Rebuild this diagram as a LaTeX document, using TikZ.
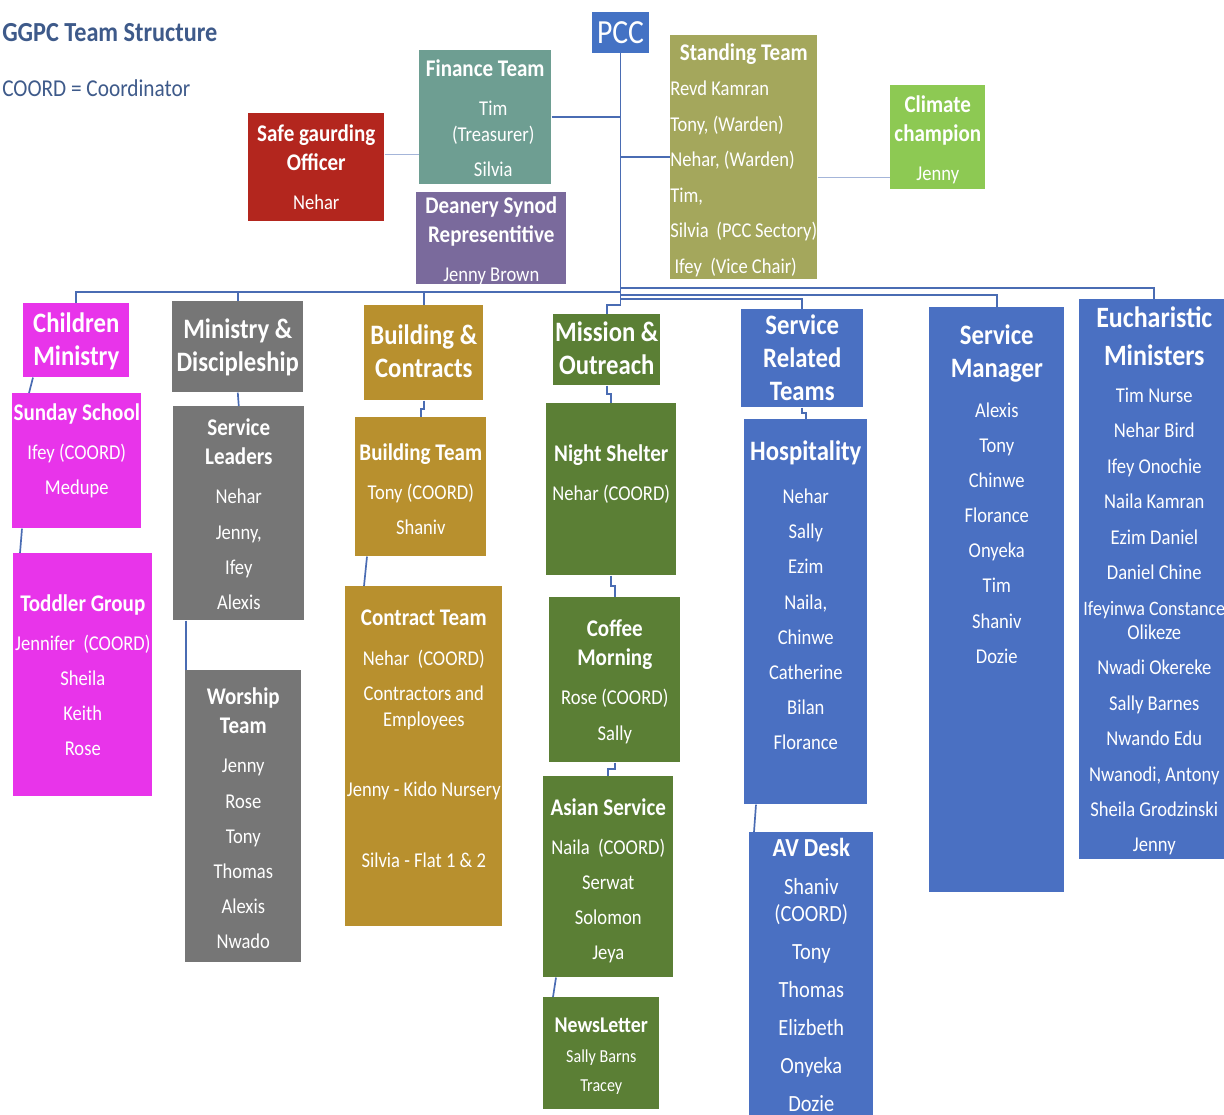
\documentclass[tikz,border=0pt]{standalone}
\usepackage{fontspec}
\setmainfont{Carlito}[FakeStretch=0.88]
\usepackage{tikz}
\usetikzlibrary{calc}

\definecolor{pccblue}{HTML}{4472C4}
\definecolor{finteal}{HTML}{6E9E92}
\definecolor{safered}{HTML}{B3261E}
\definecolor{synodpurple}{HTML}{7A6A9C}
\definecolor{standolive}{HTML}{A4A75C}
\definecolor{climgreen}{HTML}{8DC953}
\definecolor{kidmagenta}{HTML}{E834EA}
\definecolor{mingrey}{HTML}{767676}
\definecolor{bldgold}{HTML}{B8902E}
\definecolor{misgreen}{HTML}{5B7F35}
\definecolor{svcblue}{HTML}{4A70C2}
\definecolor{linkblue}{HTML}{4A6CB3}
\definecolor{titleblue}{HTML}{3E5A8A}

\newlength{\pxu}
\setlength{\pxu}{0.025cm}
% box text: width, height, top gap (px), contents
\newcommand{\cardtext}[4]{\parbox[c][#2\pxu][t]{#1\pxu}{\centering\vspace*{#3\pxu}#4}}
\newcommand{\tophead}[1]{{\fontsize{20}{24}\selectfont\bfseries #1\par}}
\newcommand{\subhead}[1]{{\fontsize{17}{21}\selectfont\bfseries #1\par}}
\newcommand{\people}[2][25]{{\fontsize{15}{#1}\selectfont\vspace{3pt}#2\par}}

\begin{document}
\begin{tikzpicture}[
        x=0.025cm, y=-0.025cm,
        card/.style={fill=#1, text=white, inner sep=0pt, anchor=north west},
        link/.style={draw=linkblue, line width=1.2pt},
        faint/.style={draw=linkblue!50, line width=1pt}
    ]
    \useasboundingbox (0,0) rectangle (1224,1115);
    \clip (0,0) rectangle (1224,1115);
    \fill[white] (0,0) rectangle (1224,1115);

    \node[anchor=west, inner sep=0pt, text=titleblue, font=\fontsize{19.6}{22}\selectfont\bfseries] (title) at (2,33) {GGPC Team Structure};
    \node[anchor=west, inner sep=0pt, text=titleblue, font=\fontsize{17.2}{20}\selectfont] (legend) at (2,88) {COORD = Coordinator};

    % council and officers
    \node[fill=pccblue, text=white, inner sep=0pt, minimum width=1.4cm, minimum height=1.025cm, font=\fontsize{24}{24}\selectfont] (pcc) at (620.5,32.5) {PCC};
    \node[card=finteal] (fin) at (419,50) {\cardtext{132}{134}{9}{\subhead{Finance~Team}\people{\hspace*{16\pxu}Tim\\[-6.5pt]\hspace*{16\pxu}(Treasurer)\\\hspace*{16\pxu}Silvia}}};
    \node[card=safered] (safe) at (248,113) {\cardtext{136}{108}{11}{\subhead{Safe~gaurding\\Officer}\people{Nehar}}};
    \node[card=synodpurple] (synod) at (416,192) {\cardtext{150}{92}{4}{\subhead{Deanery~Synod\\Representitive}\people{Jenny Brown}}};
    \node[card=standolive] (stand) at (670,35) {\cardtext{147}{244}{8}{\subhead{Standing~Team}{\raggedright\fontsize{15}{25.3}\selectfont Revd~Kamran\\Tony,~(Warden)\\Nehar,~(Warden)\\Tim,\\Silvia~~(PCC~Sectory)\\\hspace*{3pt}Ifey~~(Vice~Chair)\par}}};
    \node[card=climgreen] (climate) at (890,85) {\cardtext{95}{104}{10}{\subhead{Climate\\champion}\people{Jenny}}};

    % ministries
    \node[card=kidmagenta] (child) at (23,303) {\cardtext{106}{74}{9}{\tophead{Children\\Ministry}}};
    \node[card=mingrey] (mindisc) at (172,301) {\cardtext{131}{91}{17}{\tophead{Ministry \&\\Discipleship}}};
    \node[card=bldgold] (bldc) at (364,305) {\cardtext{119}{95}{19}{\tophead{Building \&\\Contracts}}};
    \node[card=misgreen] (mission) at (553,314) {\cardtext{107}{71}{7}{\tophead{Mission \&\\Outreach}}};
    \node[card=svcblue] (srt) at (741,309) {\cardtext{122}{98}{5}{{\fontsize{20}{23.5}\selectfont\bfseries Service\\Related\\Teams\par}}};
    \node[card=svcblue] (svcmgr) at (929,307) {\cardtext{135}{585}{17}{\tophead{Service\\Manager}\people{Alexis\\Tony\\Chinwe\\Florance\\Onyeka\\Tim\\Shaniv\\Dozie}}};
    \node[card=svcblue] (euch) at (1079,299) {\cardtext{150}{560}{7}{{\fontsize{21}{27.5}\selectfont\bfseries Eucharistic\\Ministers\par}{\fontsize{15}{25.2}\selectfont\vspace{1pt}Tim~Nurse\\Nehar~Bird\\Ifey~Onochie\\Naila~Kamran\\Ezim~Daniel\\Daniel~Chine\\\makebox[0pt]{\fontsize{14.6}{25}\selectfont Ifeyinwa~Constance}\\[-8pt]Olikeze\\Nwadi~Okereke\\Sally~Barnes\\Nwando~Edu\\Nwanodi,~Antony\\Sheila~Grodzinski\\Jenny\par}}};

    % teams
    \node[card=kidmagenta] (sunday) at (12,393) {\cardtext{129}{135}{10}{\subhead{Sunday~School}\people{Ifey (COORD)\\Medupe}}};
    \node[card=kidmagenta] (toddler) at (13,553) {\cardtext{139}{243}{41}{\subhead{Toddler~Group}\people{Jennifer~~(COORD)\\Sheila\\Keith\\Rose}}};
    \node[card=mingrey] (servlead) at (173,406) {\cardtext{131}{214}{12}{\subhead{Service\\Leaders}\people{Nehar\\Jenny,\\Ifey\\Alexis}}};
    \node[card=mingrey] (worship) at (185,670) {\cardtext{116}{292}{17}{\subhead{Worship\\Team}\people{Jenny\\Rose\\Tony\\Thomas\\Alexis\\Nwado}}};
    \node[card=bldgold] (bldteam) at (355,417) {\cardtext{131}{139}{26}{\subhead{Building~Team}\people{Tony (COORD)\\Shaniv}}};
    \node[card=bldgold] (contract) at (345,586) {\cardtext{157}{340}{24}{\subhead{Contract~Team}\people{Nehar~~(COORD)\\Contractors~and\\[-6.5pt]Employees\\[25pt]Jenny~-~Kido~Nursery\\[25pt]Silvia~-~Flat~1~\&~2}}};
    \node[card=misgreen] (night) at (546,403) {\cardtext{130}{172}{41}{\subhead{Night~Shelter}\people{Nehar~(COORD)}}};
    \node[card=misgreen] (coffee) at (549,597) {\cardtext{131}{165}{22}{\subhead{Coffee\\Morning}\people{Rose~(COORD)\\Sally}}};
    \node[card=misgreen] (asian) at (543,776) {\cardtext{130}{201}{22}{\subhead{Asian~Service}\people{Naila~~(COORD)\\Serwat\\Solomon\\Jeya}}};
    \node[card=misgreen] (news) at (543,997) {\cardtext{116}{112}{21}{{\fontsize{16}{20}\selectfont\bfseries NewsLetter\par}{\fontsize{13}{20.8}\selectfont Sally~Barns\\Tracey\par}}};
    \node[card=svcblue] (hosp) at (744,419) {\cardtext{123}{385}{21}{\tophead{Hospitality}\vspace{3pt}\people{Nehar\\Sally\\Ezim\\Naila,\\Chinwe\\Catherine\\Bilan\\Florance}}};
    \node[card=svcblue] (av) at (749,832) {\cardtext{124}{300}{6}{{\fontsize{18.5}{22}\selectfont\bfseries AV~Desk\par}{\fontsize{16.5}{27}\selectfont Shaniv\\[-8pt](COORD)\\Tony\\Thomas\\Elizbeth\\Onyeka\\Dozie\par}}};

    % links from the council
    \coordinate (trunk) at (620.5,305);
    \coordinate (busL) at (620.5,292);
    \coordinate (busE) at (620.5,288);
    \coordinate (busM) at (620.5,295);
    \coordinate (busS) at (620.5,299);
    \draw[link] (pcc.south) -- (trunk);
    \draw[link] (fin.east) -- (fin.east -| pcc.south);
    \draw[link] (stand.west) -- (stand.west -| pcc.south);
    \draw[faint] ([yshift=9.2pt]safe.east) -- ([yshift=9.2pt]safe.east -| fin.west);
    \draw[faint] ([yshift=-14.2pt]stand.east) -- ([yshift=-14.2pt]stand.east -| climate.west);
    \draw[link] (busL) -| (child.north);
    \draw[link] (busL) -| (mindisc.north);
    \draw[link] (busL) -| (bldc.north);
    \draw[link] (busE) -| (euch.north);
    \draw[link] (busM) -| (svcmgr.north);
    \draw[link] (busS) -| (srt.north);
    \draw[link] (trunk) -| (mission.north);

    % links within ministries
    \draw[link] ($(child.south west)+(10,0)$) -- ($(sunday.north west)+(17,0)$);
    \draw[link] ($(sunday.south west)+(10,0)$) -- ($(toddler.north west)+(7,0)$);
    \draw[link] (mindisc.south) -- (servlead.north);
    \draw[link] ($(servlead.south west)+(13,0)$) -- ($(worship.north west)+(1,0)$);
    \draw[link] (bldc.south) |- ($(bldc.south)!0.5!(bldteam.north)$) -| (bldteam.north);
    \draw[link] ($(bldteam.south west)+(12,0)$) -- ($(contract.north west)+(19,0)$);
    \draw[link] (mission.south) |- ($(mission.south)!0.5!(night.north)$) -| (night.north);
    \draw[link] (night.south) |- ($(night.south)!0.5!(coffee.north)$) -| (coffee.north);
    \draw[link] (coffee.south) |- ($(coffee.south)!0.5!(asian.north)$) -| (asian.north);
    \draw[link] ($(asian.south west)+(13,0)$) -- ($(news.north west)+(10,0)$);
    \draw[link] (srt.south) |- ($(srt.south)!0.5!(hosp.north)$) -| (hosp.north);
    \draw[link] ($(hosp.south west)+(12,0)$) -- ($(av.north west)+(5,0)$);
\end{tikzpicture}
\end{document}
